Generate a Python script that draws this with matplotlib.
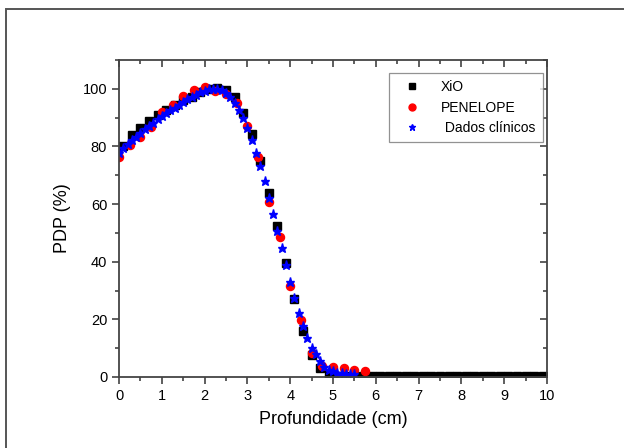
import matplotlib

matplotlib.use("Agg")
import matplotlib.pyplot as plt
from matplotlib.patches import Rectangle
from matplotlib.ticker import MultipleLocator

plt.rcParams["font.family"] = ["Liberation Sans", "DejaVu Sans"]

# XiO (planning system), step 0.2 cm
xio_x = [0.1 + 0.2 * i for i in range(50)]
xio_y = [80.2, 84.0, 86.4, 88.7, 90.9, 92.6, 94.4, 96.0, 97.3, 98.8,
         99.8, 100.2, 99.7, 97.0, 91.6, 84.3, 74.8, 63.8, 52.4, 39.6,
         27.2, 16.0, 7.8, 3.1, 1.0] + [0.5] * 25

# PENELOPE (Monte Carlo), step 0.25 cm
pen_x = [0.25 * i for i in range(24)]
pen_y = [76.2, 80.5, 83.3, 86.7, 92.1, 94.5, 97.6, 99.7, 100.5, 99.3,
         98.1, 95.1, 87.0, 76.5, 60.8, 48.7, 31.7, 19.8, 8.3, 3.9,
         3.3, 3.0, 2.6, 2.2]

# Dados clínicos, step 0.1 cm
clin_x = [0.1 * i for i in range(56)]
clin_y = [77.8, 79.6, 80.9, 82.1, 83.4, 84.6, 85.9, 87.1, 88.3, 89.5,
          90.5, 91.5, 92.5, 93.5, 94.5, 95.5, 96.4, 97.2, 98.0, 98.8,
          99.4, 99.8, 100.1, 100.1, 99.5, 98.5, 97.2, 95.2, 92.8, 89.9,
          86.3, 82.3, 77.9, 73.3, 68.1, 62.2, 56.4, 50.6, 44.6, 38.7,
          32.9, 27.5, 22.2, 17.8, 13.4, 10.0, 7.9, 5.6, 3.6, 2.4,
          2.0, 1.5, 1.3, 1.2, 1.1, 1.0]

fig = plt.figure(figsize=(6.24, 4.48), dpi=100)
ax = fig.add_axes([119 / 624, 1 - 377 / 448, 428 / 624, 317 / 448])

# outer frame around the figure
fig.patches.append(Rectangle((6 / 624, -0.2), 1.2, 1.2 - 9 / 448,
                             transform=fig.transFigure, fill=False,
                             edgecolor="#555555", linewidth=1.4))

ax.plot(xio_x, xio_y, "s", color="black", markersize=5.3, label="XiO")
ax.plot(pen_x, pen_y, "o", color="#ff0000", markersize=5.8, label="PENELOPE")
ax.plot(clin_x, clin_y, "*", color="#0000ff", markersize=6.5,
        label=" Dados clínicos")

ax.set_xlim(0, 10)
ax.set_ylim(0, 110)
ax.xaxis.set_major_locator(MultipleLocator(1))
ax.xaxis.set_minor_locator(MultipleLocator(0.5))
ax.yaxis.set_major_locator(MultipleLocator(20))
ax.yaxis.set_minor_locator(MultipleLocator(10))
ax.tick_params(which="both", direction="out", top=False, right=False,
               labelsize=10.5, width=1.1, color="#333333")
ax.tick_params(which="major", length=5)
ax.tick_params(which="minor", length=3)

# inward ticks on top and right
for side in ("top", "right"):
    sec = ax.secondary_xaxis("top") if side == "top" else ax.secondary_yaxis("right")
    axis = sec.xaxis if side == "top" else sec.yaxis
    axis.set_major_locator(MultipleLocator(1 if side == "top" else 20))
    axis.set_minor_locator(MultipleLocator(0.5 if side == "top" else 10))
    sec.tick_params(which="both", direction="in", labelsize=0, width=1.1,
                    color="#333333")
    sec.tick_params(which="major", length=5)
    sec.tick_params(which="minor", length=3)
    axis.set_ticklabels([])
    for sp in sec.spines.values():
        sp.set_visible(False)

for sp in ax.spines.values():
    sp.set_linewidth(1.3)
    sp.set_color("#444444")

ax.set_xlabel("Profundidade (cm)", fontsize=13, labelpad=6)
ax.set_ylabel("PDP (%)", fontsize=13, labelpad=8)

leg = ax.legend(loc="upper right", bbox_to_anchor=(0.991, 0.96), fontsize=10,
                frameon=True, fancybox=False, handletextpad=1.0,
                borderpad=0.55, labelspacing=0.45, handlelength=2.2,
                borderaxespad=0)
leg.get_frame().set_edgecolor("#777777")
leg.get_frame().set_linewidth(0.9)
for h in leg.legend_handles:
    h.set_markersize(5)

fig.savefig("out.png", dpi=100)
